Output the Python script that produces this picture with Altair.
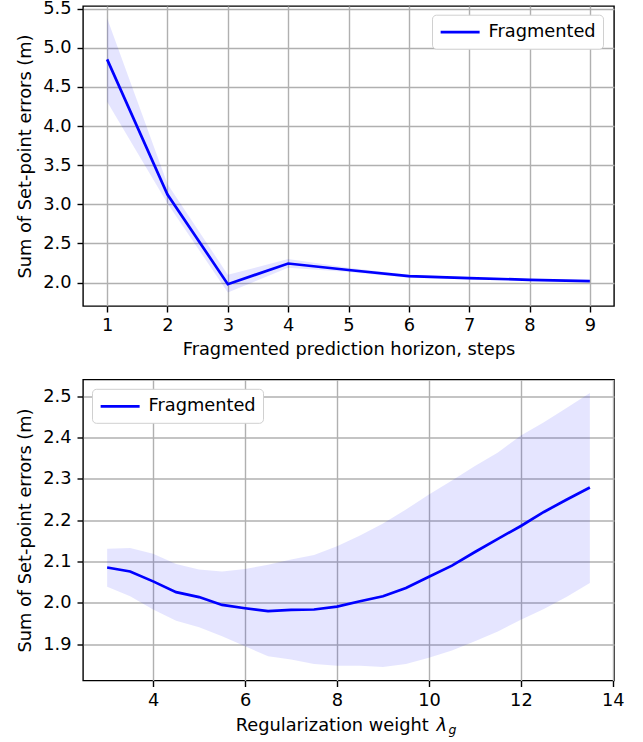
import altair as alt
import pandas as pd

# ---- data: top panel (prediction horizon) ----
horizon_steps = [1, 2, 3, 4, 5, 6, 7, 8, 9]
horizon_mean = [4.853, 3.125, 1.979, 2.243, 2.16, 2.081, 2.056, 2.035, 2.018]
horizon_low = [4.31, 3.01, 1.873, 2.19, 2.135, 2.062, 2.04, 2.022, 2.006]
horizon_high = [5.38, 3.26, 2.10, 2.30, 2.19, 2.10, 2.072, 2.048, 2.03]

# ---- data: bottom panel (regularization weight) ----
reg_weight = [3.0, 3.5, 4.0, 4.5, 5.0, 5.5, 6.0, 6.5, 7.0, 7.5, 8.0,
              8.5, 9.0, 9.5, 10.0, 10.5, 11.0, 11.5, 12.0, 12.5, 13.0, 13.5]
reg_mean = [2.0855, 2.076, 2.052, 2.026, 2.014, 1.995, 1.987, 1.980, 1.983, 1.984, 1.991,
            2.004, 2.016, 2.036, 2.063, 2.090, 2.123, 2.155, 2.186, 2.220, 2.250, 2.279]
reg_low = [2.039, 2.016, 1.984, 1.957, 1.941, 1.919, 1.895, 1.871, 1.863, 1.852, 1.848,
           1.848, 1.845, 1.852, 1.867, 1.885, 1.907, 1.931, 1.959, 1.985, 2.015, 2.048]
reg_high = [2.131, 2.133, 2.119, 2.094, 2.081, 2.076, 2.082, 2.092, 2.105, 2.116, 2.137,
            2.163, 2.192, 2.226, 2.262, 2.296, 2.331, 2.364, 2.405, 2.437, 2.472, 2.508]

series_name = "Fragmented"

top_df = pd.DataFrame({"x": horizon_steps, "mean": horizon_mean,
                       "lo": horizon_low, "hi": horizon_high, "series": series_name})
bot_df = pd.DataFrame({"x": reg_weight, "mean": reg_mean,
                       "lo": reg_low, "hi": reg_high, "series": series_name})

FONT = "DejaVu Sans"
FS = 17.8
W, H = 531, 300


def panel(df, xdom, ydom, xvals, yvals, xtitle, legend_x, legend_y):
    xs = alt.Scale(domain=xdom, nice=False, zero=False)
    ys = alt.Scale(domain=ydom, nice=False, zero=False)
    xaxis = alt.Axis(values=xvals, format="d", title=xtitle) if xtitle is not None else \
        alt.Axis(values=xvals, format="d", title=None)
    yaxis = alt.Axis(values=yvals, format=".1f", title="Sum of Set-point errors (m)")
    band = alt.Chart(df).mark_area(color="blue", opacity=0.1, clip=True).encode(
        x=alt.X("x:Q", scale=xs, axis=xaxis),
        y=alt.Y("lo:Q", scale=ys, axis=yaxis),
        y2="hi:Q",
    )
    line = alt.Chart(df).mark_line(strokeWidth=2.7, clip=True).encode(
        x=alt.X("x:Q", scale=xs),
        y=alt.Y("mean:Q", scale=ys),
        color=alt.Color(
            "series:N",
            scale=alt.Scale(domain=[series_name], range=["blue"]),
            legend=alt.Legend(
                title=None, orient="none", legendX=legend_x, legendY=legend_y,
                fillColor="white", strokeColor="#d0d0d0", cornerRadius=4,
                padding=7, symbolType="M-1,0H3.4", symbolSize=314,
                symbolStrokeWidth=2.7, labelFont=FONT, labelFontSize=FS,
                labelColor="black", labelOffset=28.5,
            ),
        ),
    )
    return band, line


top_band, top_line = panel(top_df, [0.6, 9.4], [1.70, 5.535],
                           horizon_steps, [2.0, 2.5, 3.0, 3.5, 4.0, 4.5, 5.0, 5.5],
                           "Fragmented prediction horizon, steps", 349, 8.7)
top = alt.layer(top_band, top_line).properties(width=W, height=H)

bot_band, bot_line = panel(bot_df, [2.475, 14.025], [1.8122, 2.5404],
                           [4, 6, 8, 10, 12, 14], [1.9, 2.0, 2.1, 2.2, 2.3, 2.4, 2.5],
                           None, 9, 9.3)

title_df = pd.DataFrame({"main": ["Regularization weight"], "lam": ["λ"], "sub": ["g"]})
t_main = alt.Chart(title_df).mark_text(
    align="right", baseline="alphabetic", font=FONT, fontSize=FS, color="black"
).encode(x=alt.value(345.7), y=alt.value(351.7), text="main:N")
t_lam = alt.Chart(title_df).mark_text(
    align="left", baseline="alphabetic", font=FONT, fontSize=FS, fontStyle="italic", color="black"
).encode(x=alt.value(353.5), y=alt.value(351.7), text="lam:N")
t_sub = alt.Chart(title_df).mark_text(
    align="left", baseline="alphabetic", font=FONT, fontSize=12.5, fontStyle="italic", color="black"
).encode(x=alt.value(365.5), y=alt.value(354.0), text="sub:N")

bottom = alt.layer(bot_band, bot_line, t_main, t_lam, t_sub).properties(width=W, height=301)

chart = alt.vconcat(top, bottom, spacing=19.5).resolve_scale(
    color="independent"
).resolve_legend(color="independent").properties(
    padding={"left": 16, "top": -1, "right": 5, "bottom": 5},
    background="white",
).configure_view(
    stroke="black", strokeWidth=1.4
).configure_axis(
    labelFont=FONT, labelFontSize=FS, labelColor="black",
    titleFont=FONT, titleFontSize=FS, titleFontWeight="normal", titleColor="black",
    tickColor="black", tickWidth=1.4, tickSize=6, labelPadding=6,
    domain=False, grid=True, gridColor="#b0b0b0", gridWidth=1.4,
    titlePadding=8,
).configure_axisX(
    labelPadding=4.5, titlePadding=6,
)

chart.save("out.html", embed_options={"renderer": "svg", "actions": False})
